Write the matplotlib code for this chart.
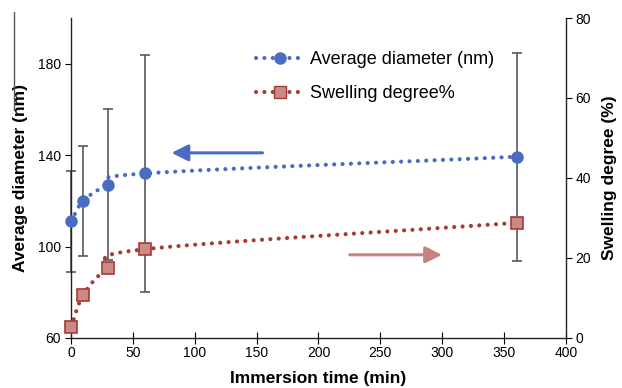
import numpy as np
import matplotlib
matplotlib.use("Agg")
import matplotlib.pyplot as plt
from matplotlib.lines import Line2D

plt.rcParams['font.family'] = ['Liberation Sans', 'DejaVu Sans']

# data
time_min = [0, 10, 30, 60, 360]
avg_diameter = [111, 120, 127, 132, 139.3]
diameter_err = [22, 24, 33, 52, 45.6]
swelling = [2.7, 10.8, 17.6, 22.2, 28.8]

blue = '#4a6cc0'
red = '#a83a36'
red_fill = '#c98a88'
pink = '#c98080'


def smooth(x, y, n=30):
    # Excel-like smoothed line (Catmull-Rom through the points)
    x = np.asarray(x, float)
    y = np.asarray(y, float)
    px = np.concatenate([[2 * x[0] - x[1]], x, [2 * x[-1] - x[-2]]])
    py = np.concatenate([[2 * y[0] - y[1]], y, [2 * y[-1] - y[-2]]])
    xs, ys = [], []
    for i in range(1, len(px) - 2):
        t = np.linspace(0, 1, n, endpoint=False)
        p0, p1, p2, p3 = [np.array([px[j], py[j]]) for j in range(i - 1, i + 3)]
        c1 = p1 + (p2 - p0) / 6
        c2 = p2 - (p3 - p1) / 6
        for tt in t:
            b = ((1 - tt) ** 3 * p1 + 3 * (1 - tt) ** 2 * tt * c1
                 + 3 * (1 - tt) * tt ** 2 * c2 + tt ** 3 * p2)
            xs.append(b[0])
            ys.append(b[1])
    xs.append(x[-1])
    ys.append(y[-1])
    return np.array(xs), np.array(ys)


fig = plt.figure(figsize=(6.22, 3.88), dpi=100)
ax = fig.add_axes([0.1141, 0.1289, 0.7959, 0.8247])
ax2 = ax.twinx()

dot_style = dict(linestyle=(0, (0.01, 2.0)), linewidth=3, dash_capstyle='round')

# average diameter (left axis)
eb = ax.errorbar(time_min, avg_diameter, yerr=diameter_err, fmt='none',
                 ecolor='#595959', elinewidth=1.2, capsize=3.5, capthick=1.2, zorder=2)
for art in eb.lines[1] + eb.lines[2]:
    art.set_clip_on(False)
sx, sy = smooth(time_min, avg_diameter)
ax.plot(sx, sy, color=blue, zorder=3, clip_on=False, **dot_style)
ax.plot(time_min, avg_diameter, 'o', color=blue, markersize=8, zorder=4, clip_on=False)

# swelling degree (right axis)
sx2, sy2 = smooth(time_min, swelling)
ax2.plot(sx2, sy2, color=red, zorder=3, clip_on=False, **dot_style)
ax2.plot(time_min, swelling, 's', markerfacecolor=red_fill, markeredgecolor=red,
         markeredgewidth=1.2, markersize=8, zorder=4, clip_on=False)

ax.set_xlim(0, 400)
ax.set_ylim(60, 200)
ax.set_yticks([60, 100, 140, 180])
ax.set_xticks(np.arange(0, 401, 50))
ax2.set_ylim(0, 80)
ax2.set_yticks([0, 20, 40, 60, 80])

for a in (ax, ax2):
    a.spines['top'].set_visible(False)
    for s in a.spines.values():
        s.set_linewidth(1.0)
        s.set_color('#222222')
ax.spines['right'].set_visible(False)
ax2.spines['left'].set_visible(False)
ax2.spines['bottom'].set_visible(False)

ax.tick_params(axis='x', direction='inout', length=8, labelsize=10, pad=2)
ax.tick_params(axis='y', direction='out', length=4, labelsize=10, pad=3)
ax2.tick_params(axis='y', direction='out', length=4, labelsize=10, pad=3)

ax.set_xlabel('Immersion time (min)', fontsize=12.5, fontweight='bold', labelpad=8)
ax.set_ylabel('Average diameter (nm)', fontsize=12.5, fontweight='bold', labelpad=7)
ax2.set_ylabel('Swelling degree (%)', fontsize=12.5, fontweight='bold', labelpad=8)

# direction arrows
ax.annotate('', xy=(79, 141), xytext=(157, 141), xycoords='data',
            arrowprops=dict(arrowstyle='-|>,head_length=1.0,head_width=0.5',
                            color=blue, lw=2.2))
ax2.annotate('', xy=(302, 20.8), xytext=(223, 20.8), xycoords='data',
             arrowprops=dict(arrowstyle='-|>,head_length=1.0,head_width=0.5',
                             color=pink, lw=2.2))

handles = [
    Line2D([], [], color=blue, marker='o', markersize=8, **dot_style),
    Line2D([], [], color=red, marker='s', markerfacecolor=red_fill,
           markeredgecolor=red, markersize=8, **dot_style),
]
ax.legend(handles, ['Average diameter (nm)', 'Swelling degree%'],
          loc='upper left', bbox_to_anchor=(0.359, 0.92), frameon=False,
          fontsize=13, handlelength=2.7, handletextpad=0.3, labelspacing=0.95,
          borderaxespad=0)

# stray border line at left edge of the original image
fig.add_artist(Line2D([13.5 / 622, 13.5 / 622], [1 - 12 / 388, 1 - 110 / 388],
                      color='#555555', lw=1.0))

fig.savefig('out.png', dpi=100)
